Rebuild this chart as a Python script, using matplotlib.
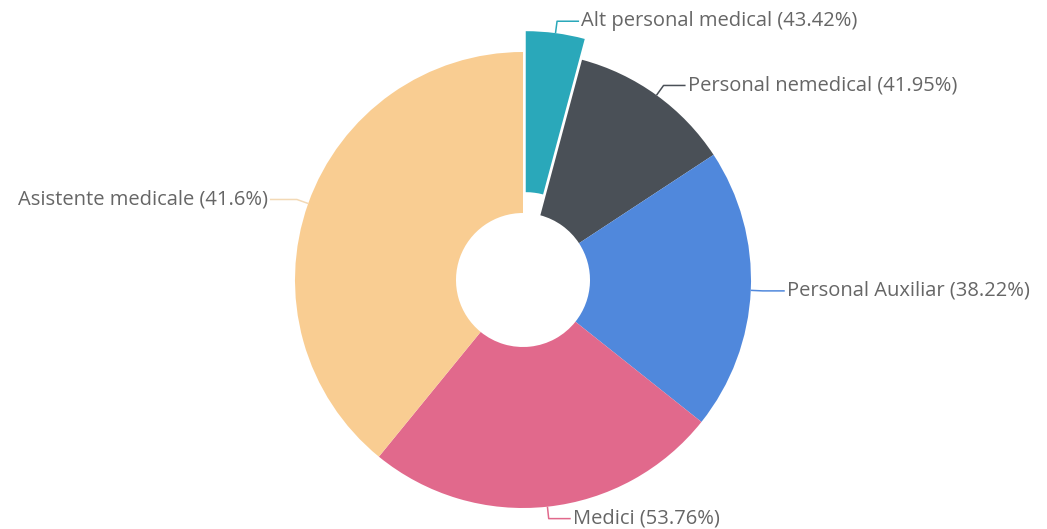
import numpy as np
import matplotlib.pyplot as plt

labels = ['Alt personal medical', 'Personal nemedical', 'Personal Auxiliar', 'Medici', 'Asistente medicale']
pct_text = ['43.42%', '41.95%', '38.22%', '53.76%', '41.6%']
values = [15, 41.7, 71.8, 90.7, 140.8]
colors = ['#2aa8ba', '#4a5057', '#5088dc', '#e1698c', '#f9cd92']
explode = [21, 0, 0, 0, 0]

plt.rcParams['font.family'] = ['Open Sans', 'DejaVu Sans']

fig = plt.figure(figsize=(10.47, 5.29), dpi=100)
ax = fig.add_axes([0, 0, 1, 1])

R = 228
wedges, _ = ax.pie(values, colors=colors, explode=explode, startangle=90, counterclock=False,
                   radius=R, center=(523, 249), frame=True,
                   wedgeprops=dict(width=R - 67, linewidth=0))
ax.set_xlim(0, 1047)
ax.set_ylim(0, 529)
ax.set_aspect('equal')
ax.axis('off')

# leader lines: out from the middle of each slice, then a short horizontal run
for w, lab, p, col in zip(wedges, labels, pct_text, colors):
    ang = np.deg2rad((w.theta1 + w.theta2) / 2)
    cx, cy = w.center
    x0, y0 = cx + R * np.cos(ang), cy + R * np.sin(ang)
    x1, y1 = cx + (R + 12) * np.cos(ang), cy + (R + 12) * np.sin(ang)
    side = 1 if np.cos(ang) >= 0 else -1
    run = 22 if side > 0 else 27
    x2 = x1 + side * run
    lc = col if lab != 'Asistente medicale' else '#f3d9b5'
    ax.plot([x0, x1, x2], [y0, y1, y1], color=lc, lw=1.1, solid_capstyle='butt')
    ax.text(x2 + side * 2, y1, f'{lab} ({p})', ha='left' if side > 0 else 'right',
            va='center', fontsize=14.5, color='#666666')

fig.savefig('out.png', dpi=100)
